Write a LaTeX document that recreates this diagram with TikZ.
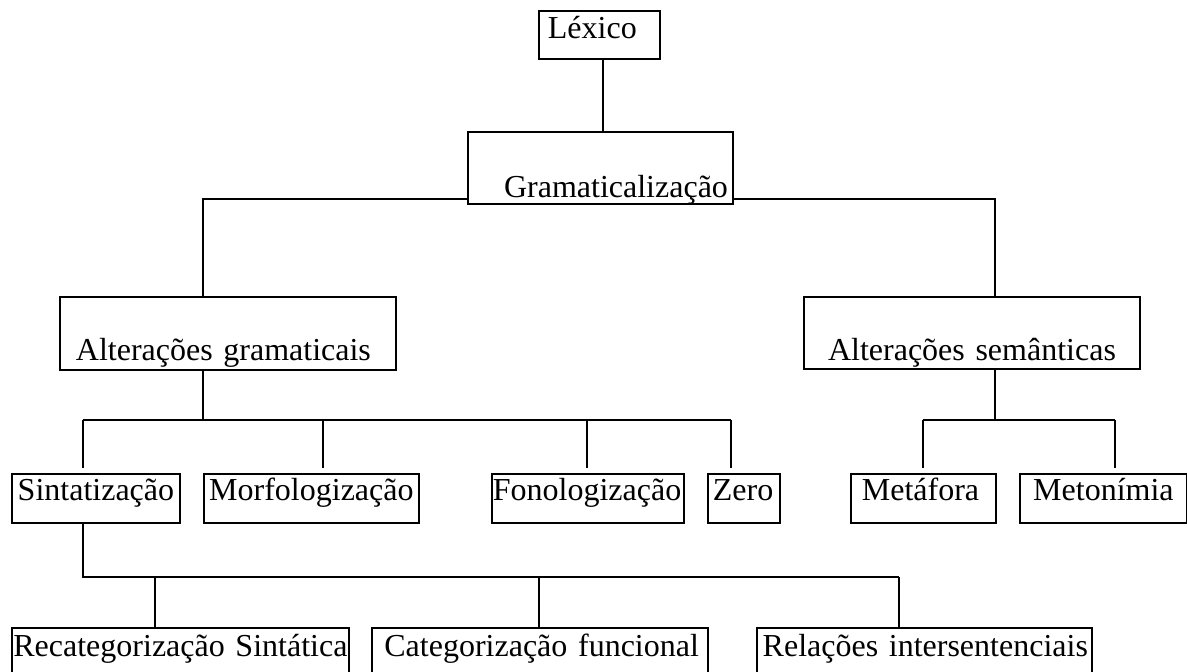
\documentclass[tikz,border=0pt]{standalone}
\usepackage{fontspec}
\setmainfont{Liberation Serif}
\usepackage{tikz}
\usetikzlibrary{calc}

\begin{document}
\begin{tikzpicture}[x=0.5pt,y=-0.5pt,line width=0.9pt,
  every node/.style={font=\fontsize{16}{19}\selectfont},
  box/.style={draw,rectangle,anchor=north west,inner ysep=0pt,inner xsep=0pt},
  row3/.style={text height=13.5pt,text depth=11pt},
  row4/.style={text height=14.5pt,text depth=12pt}]
\useasboundingbox (0,0) rectangle (1187,671);
% top levels
\node[box,text width=51.5pt,inner xsep=4.5pt,align=left,text height=14pt,text depth=10pt] (lex) at (538,10) {Léxico};
\node[box,text width=127.5pt,inner xsep=2.5pt,align=right,text height=33pt,text depth=3pt] (gram) at (467,131) {Gramaticalização};
\node[box,text width=152pt,inner xsep=8pt,align=left,text height=32pt,text depth=4.5pt] (altg) at (59,296) {Alterações gramaticais};
\node[box,text width=144pt,inner xsep=12pt,align=right,text height=32pt,text depth=4pt] (alts) at (803,296) {Alterações semânticas};
% third row
\node[box,row3,text width=84pt,align=center] (sint) at (11,473) {Sintatização};
\node[box,row3,text width=107.5pt,align=center] (morf) at (203,473) {Morfologização};
\node[box,row3,text width=95pt,inner xsep=0.5pt,align=left] (fono) at (491,473) {Fonologização};
\node[box,row3,text width=31pt,inner xsep=2.5pt,align=left] (zero) at (707,473) {Zero};
\node[box,row3,text width=61.5pt,inner xsep=5.5pt,align=left] (meta) at (850,473) {Metáfora};
\node[box,row3,text width=83.5pt,align=center] (meto) at (1019,473) {Metonímia};
% bottom row
\node[box,row4,text width=168.5pt,align=center] (recat) at (11,627) {Recategorização Sintática};
\node[box,row4,text width=159pt,inner xsep=4.5pt,align=right] (catf) at (371,627) {Categorização funcional};
\node[box,row4,text width=163.5pt,inner xsep=2pt,align=right] (rel) at (756,627) {Relações intersentenciais};
% junctions
\coordinate (lx) at (603,58);
\coordinate (gl) at (203,199);
\coordinate (gr) at (995,199);
\coordinate (ag) at (203,420);
\coordinate (ag1) at (83,420);
\coordinate (ag2) at (323,420);
\coordinate (ag3) at (587,420);
\coordinate (ag4) at (731,420);
\coordinate (as) at (995,420);
\coordinate (as1) at (923,420);
\coordinate (as2) at (1115,420);
\coordinate (sy) at (83,577);
\coordinate (sy1) at (155,577);
\coordinate (sy2) at (539,577);
\coordinate (sy3) at (899,577);
% connectors
\draw (lx |- lex.south) -- (lx |- gram.north);
\draw (gram.west |- gl) -- (gl) -- (gl |- altg.north);
\draw (gram.east |- gr) -- (gr) -- (gr |- alts.north);
\draw (ag |- altg.south) -- (ag);
\draw (ag1) -- (ag4);
\foreach \c/\n in {ag1/sint,ag2/morf,ag3/fono,ag4/zero}
  \draw[shorten >=2.5pt] (\c) -- (\c |- \n.north);
\draw (as |- alts.south) -- (as);
\draw (as1) -- (as2);
\foreach \c/\n in {as1/meta,as2/meto}
  \draw[shorten >=2.5pt] (\c) -- (\c |- \n.north);
\draw (sy |- sint.south) -- (sy) -- (sy3);
\foreach \c/\n in {sy1/recat,sy2/catf,sy3/rel}
  \draw (\c) -- (\c |- \n.north);
\end{tikzpicture}
\end{document}
